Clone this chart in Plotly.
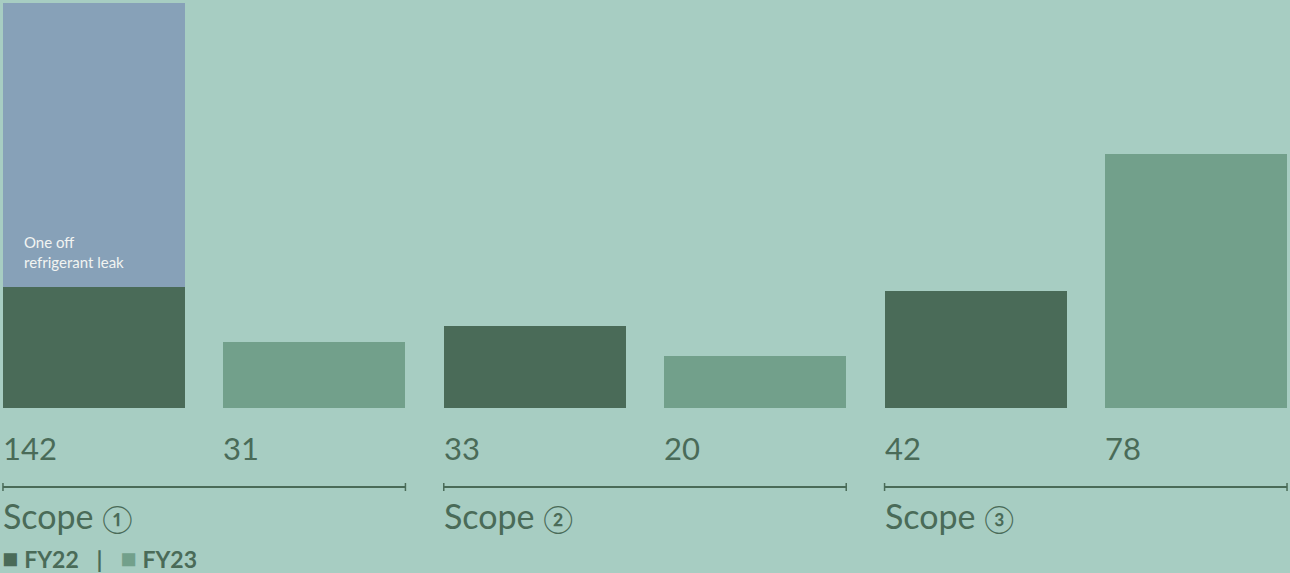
import plotly.graph_objects as go

# Data
scopes = ["Scope", "Scope", "Scope"]
scope_marks = ["①", "②", "③"]
years = ["FY22", "FY23"]
value_labels = [142, 31, 33, 20, 42, 78]          # printed values, FY22/FY23 per scope
bar_heights = [121, 66, 82, 52, 117, 254]        # drawn bar heights (chart units)
leak_height = [284, 0, 0, 0, 0, 0]                # one-off refrigerant leak stack on Scope 1 FY22
leak_label = "One off<br>refrigerant leak"

BG = "#a7cdc2"
DARK = "#4a6b58"
LIGHT = "#72a08b"
BLUE = "#87a1b8"
TXT = "#4a6b58"
FONT = "Lato"

xs = list(range(len(value_labels)))
colors = [DARK if i % 2 == 0 else LIGHT for i in xs]
W = 0.826

fig = go.Figure()
fig.add_trace(go.Bar(x=xs, y=bar_heights, width=W, marker=dict(color=colors, line=dict(width=0)),
                     hoverinfo="skip", showlegend=False))
fig.add_trace(go.Bar(x=xs, y=leak_height, width=W, marker=dict(color=BLUE, line=dict(width=0)),
                     hoverinfo="skip", showlegend=False))

ann = []
for i, v in enumerate(value_labels):
    ann.append(dict(x=i - W / 2, xshift=-2, y=-40, xref="x", yref="y", text=str(v), showarrow=False,
                    xanchor="left", yanchor="middle", font=dict(family=FONT, size=31, color=TXT)))

shapes = []
for g, s in enumerate(scopes):
    x0 = 2 * g - W / 2
    x1 = 2 * g + 1 + W / 2
    shapes.append(dict(type="line", xref="x", yref="y", x0=x0, x1=x1, y0=-79, y1=-79,
                       line=dict(color=TXT, width=2)))
    for xx in (x0, x1):
        shapes.append(dict(type="line", xref="x", yref="y", x0=xx, x1=xx, y0=-75, y1=-83,
                           line=dict(color=TXT, width=1.5)))
    ann.append(dict(x=x0, xshift=-2, y=-107, xref="x", yref="y",
                    text=f"{s} <span style='font-size:27px'>{scope_marks[g]}</span>", showarrow=False,
                    xanchor="left", yanchor="middle", font=dict(family=FONT, size=34, color=TXT)))

ann.append(dict(x=-W / 2 + 0.085, y=408 - 252, xref="x", yref="y", text=leak_label, showarrow=False,
                xanchor="left", yanchor="middle", align="left",
                font=dict(family=FONT, size=15, color="#f2f4f2")))

legend_text = (f"<span style='color:{DARK};font-size:27px'>■</span> <b>{years[0]}</b>&nbsp;&nbsp; <b>|</b> &nbsp;&nbsp;"
               f"<span style='color:{LIGHT};font-size:27px'>■</span> <b>{years[1]}</b>")
ann.append(dict(x=0, xshift=0, y=-149, xref="paper", yref="y", text=legend_text, showarrow=False,
                xanchor="left", yanchor="middle", font=dict(family=FONT, size=23, color=TXT)))

fig.update_layout(
    barmode="stack",
    width=1290, height=573,
    margin=dict(l=0, r=0, t=0, b=0),
    paper_bgcolor=BG, plot_bgcolor=BG,
    xaxis=dict(range=[-94 / 220.4, (1290 - 94) / 220.4], visible=False, fixedrange=True),
    yaxis=dict(range=[-165, 408], visible=False, fixedrange=True),
    annotations=ann, shapes=shapes,
)

fig.write_html("out.html", config={"displayModeBar": False},
               post_script="document.body.style.margin='0';document.body.style.overflow='hidden';"
                           "document.body.style.background='%s';" % BG)
